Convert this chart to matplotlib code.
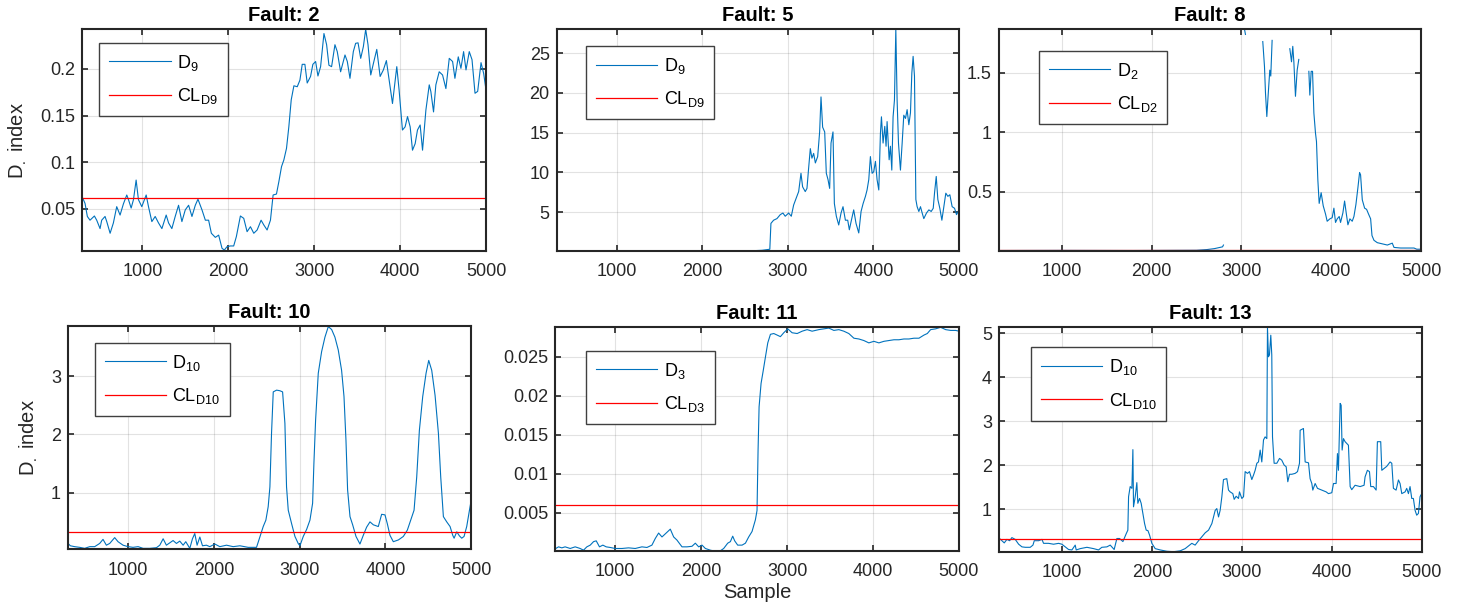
import matplotlib
matplotlib.use("Agg")
import matplotlib.pyplot as plt
from matplotlib.ticker import FormatStrFormatter
import numpy as np

plt.rcParams["font.family"] = ["Liberation Sans", "DejaVu Sans"]
plt.rcParams["mathtext.fontset"] = "custom"
plt.rcParams["mathtext.rm"] = "Liberation Sans"
plt.rcParams["mathtext.it"] = "Liberation Sans"
plt.rcParams["mathtext.bf"] = "Liberation Sans:bold"

nan = np.nan

# ---- data ----
fault2_x = [300, 331, 358, 389, 440, 467, 506, 525, 564, 584, 623, 661, 700, 739, 778, 817, 837, 868, 895, 926,
            953, 992, 1043, 1070, 1109, 1148, 1187, 1226, 1276, 1304, 1342, 1381, 1420, 1459, 1498, 1537, 1576, 1615,
            1646, 1693, 1732, 1770, 1802, 1848, 1887, 1926, 1953, 1984, 2023, 2062, 2093, 2140, 2179, 2218, 2257,
            2296, 2335, 2381, 2412, 2451, 2490, 2521, 2560, 2588, 2619, 2646, 2677, 2704, 2732, 2763, 2802, 2833,
            2860, 2891, 2918, 2957, 2984, 3016, 3043, 3074, 3113, 3144, 3171, 3202, 3241, 3268, 3307, 3358, 3385,
            3416, 3455, 3482, 3510, 3541, 3572, 3599, 3626, 3658, 3689, 3728, 3767, 3805, 3840, 3872, 3911, 3961,
            3988, 4027, 4058, 4086, 4117, 4144, 4175, 4202, 4233, 4261, 4300, 4339, 4358, 4389, 4416, 4455, 4494,
            4533, 4572, 4611, 4638, 4677, 4708, 4739, 4767, 4805, 4837, 4872, 4903, 4942, 4973, 5000]
fault2_y = [0.0625, 0.056, 0.042, 0.038, 0.0425, 0.038, 0.029, 0.038, 0.042, 0.0365, 0.024, 0.035, 0.0525, 0.0435,
            0.0555, 0.065, 0.06, 0.051, 0.06, 0.081, 0.06, 0.0525, 0.065, 0.0525, 0.0365, 0.042, 0.035, 0.029, 0.0435,
            0.035, 0.029, 0.042, 0.054, 0.0365, 0.049, 0.054, 0.042, 0.054, 0.0605, 0.049, 0.038, 0.038, 0.024,
            0.0196, 0.022, 0.0079, 0.006, 0.0096, 0.0104, 0.0104, 0.0204, 0.0425, 0.04, 0.0257, 0.031, 0.024, 0.0275,
            0.038, 0.033, 0.0275, 0.038, 0.065, 0.066, 0.0793, 0.0954, 0.1025, 0.115, 0.138, 0.167, 0.182, 0.181,
            0.188, 0.205, 0.205, 0.185, 0.192, 0.205, 0.208, 0.1925, 0.2025, 0.238, 0.226, 0.204, 0.2025, 0.226,
            0.2186, 0.197, 0.215, 0.208, 0.19, 0.2186, 0.2275, 0.228, 0.2114, 0.224, 0.2425, 0.226, 0.1936, 0.206,
            0.221, 0.192, 0.199, 0.209, 0.188, 0.163, 0.2025, 0.1775, 0.1346, 0.138, 0.149, 0.138, 0.113, 0.12,
            0.1346, 0.14, 0.113, 0.156, 0.183, 0.1757, 0.154, 0.183, 0.197, 0.1936, 0.179, 0.2114, 0.208, 0.19,
            0.213, 0.2007, 0.2186, 0.199, 0.2186, 0.21, 0.174, 0.176, 0.2068, 0.195, 0.1775]

fault5_x = [300, 800, 1500, 2200, 2600, 2700, 2790, 2803, 2834, 2873, 2912, 2943, 2970, 3010, 3041, 3068, 3099, 3127,
            3154, 3173, 3204, 3224, 3243, 3263, 3282, 3302, 3322, 3349, 3372, 3388, 3407, 3431, 3450, 3470, 3489,
            3505, 3528, 3544, 3567, 3595, 3622, 3645, 3673, 3700, 3719, 3743, 3770, 3797, 3829, 3856, 3880, 3907,
            3926, 3946, 3965, 3985, 4004, 4024, 4043, 4063, 4082, 4094, 4113, 4133, 4148, 4160, 4184, 4199, 4215,
            4230, 4246, 4262, 4277, 4293, 4316, 4336, 4355, 4375, 4394, 4414, 4433, 4449, 4464, 4480, 4496, 4511,
            4531, 4550, 4570, 4589, 4620, 4648, 4675, 4699, 4714, 4734, 4753, 4776, 4800, 4823, 4846, 4870, 4893,
            4920, 4948, 4971, 5000]
fault5_y = [0.14, 0.15, 0.14, 0.15, 0.17, 0.22, 0.35, 3.6, 4.0, 4.2, 4.7, 4.9, 4.5, 4.9, 4.5, 5.9, 6.8, 7.6, 9.9,
            8.2, 7.6, 8.0, 10.5, 13.0, 11.8, 12.4, 11.2, 12.0, 15.1, 19.5, 15.7, 15.1, 9.9, 9.1, 8.0, 13.7, 15.1, 6.1,
            4.5, 3.4, 4.9, 5.7, 4.0, 4.0, 2.8, 4.0, 5.3, 3.6, 2.4, 5.1, 6.1, 7.0, 7.8, 9.1, 12.0, 9.9, 10.1, 11.4,
            9.1, 7.8, 14.9, 17.0, 13.7, 15.8, 13.3, 16.4, 11.6, 13.3, 10.3, 17.0, 19.1, 28.0, 19.1, 13.7, 10.3, 13.7,
            17.2, 16.8, 17.9, 16.0, 17.5, 22.5, 24.6, 22.1, 6.6, 5.7, 5.1, 5.7, 4.9, 4.2, 4.9, 5.3, 5.1, 5.5, 7.4,
            9.5, 6.6, 5.5, 4.0, 5.7, 7.4, 7.0, 7.2, 5.7, 5.5, 4.7, 5.3]

# gaps (nan) where the index runs off the top of the plot
fault8_x = [300, 1000, 1800, 2500, 2617, 2700, 2790, 2800, 2900, 3026, 3045, 3100, 3238, 3257,
            3268, 3283, 3297, 3316, 3327, 3342, 3450, 3539, 3558, 3572, 3584, 3602, 3621, 3639, 3700,
            3751, 3762, 3777, 3792, 3807, 3825, 3836, 3851, 3866, 3888, 3911, 3937, 3955, 3985, 4011, 4030,
            4048, 4067, 4089, 4104, 4130, 4149, 4167, 4186, 4208, 4234, 4253, 4275, 4297, 4316, 4327, 4346, 4372,
            4394, 4416, 4439, 4454, 4476, 4513, 4569, 4625, 4680, 4699, 4773, 4922, 4952, 5000]
fault8_y = [0.004, 0.005, 0.004, 0.006, 0.012, 0.02, 0.035, 0.05, nan, 1.9, 1.82, nan, 1.76,
            1.55, 1.33, 1.13, 1.30, 1.52, 1.47, 1.77, nan, 1.70, 1.59, 1.72, 1.59, 1.30, 1.52, 1.61, nan,
            1.51, 1.31, 1.51, 1.51, 1.16, 0.99, 0.92, 0.60, 0.40, 0.49, 0.38, 0.31, 0.25, 0.27, 0.28, 0.36,
            0.24, 0.27, 0.29, 0.24, 0.32, 0.42, 0.32, 0.22, 0.27, 0.25, 0.29, 0.39, 0.53, 0.66, 0.64, 0.43, 0.36,
            0.35, 0.31, 0.27, 0.13, 0.09, 0.07, 0.06, 0.05, 0.066, 0.03, 0.025, 0.025, 0.015, 0.015]

fault10_x = [300, 327, 377, 436, 494, 553, 611, 669, 708, 747, 786, 844, 883, 942, 1000, 1058, 1117, 1175, 1253, 1331,
             1370, 1409, 1447, 1486, 1525, 1564, 1603, 1642, 1673, 1720, 1751, 1778, 1805, 1837, 1868, 1914, 1953,
             2012, 2070, 2148, 2226, 2304, 2401, 2498, 2537, 2576, 2607, 2634, 2654, 2673, 2693, 2732, 2770, 2802,
             2829, 2848, 2868, 2907, 2946, 2984, 3004, 3043, 3082, 3121, 3152, 3167, 3187, 3218, 3257, 3296, 3335,
             3374, 3412, 3451, 3490, 3518, 3541, 3560, 3588, 3619, 3658, 3704, 3743, 3782, 3821, 3860, 3918, 3957,
             3996, 4023, 4054, 4093, 4152, 4210, 4257, 4296, 4335, 4366, 4397, 4436, 4475, 4506, 4541, 4580, 4619,
             4646, 4677, 4716, 4755, 4786, 4802, 4833, 4864, 4891, 4918, 4949, 4981, 5000]
fault10_y = [0.13, 0.09, 0.075, 0.063, 0.046, 0.075, 0.075, 0.13, 0.2, 0.1, 0.13, 0.23, 0.16, 0.1, 0.075, 0.063,
             0.075, 0.046, 0.046, 0.057, 0.1, 0.21, 0.1, 0.14, 0.18, 0.13, 0.17, 0.1, 0.16, 0.046, 0.21, 0.3, 0.1,
             0.24, 0.09, 0.1, 0.075, 0.12, 0.075, 0.1, 0.075, 0.09, 0.063, 0.063, 0.24, 0.42, 0.53, 0.76, 1.1, 2.02,
             2.73, 2.76, 2.75, 2.73, 2.19, 1.1, 0.7, 0.47, 0.25, 0.13, 0.09, 0.25, 0.37, 0.53, 0.82, 1.5, 2.25, 3.05,
             3.42, 3.67, 3.85, 3.8, 3.67, 3.45, 3.1, 2.65, 1.9, 1.05, 0.59, 0.45, 0.25, 0.12, 0.27, 0.41, 0.5, 0.45,
             0.42, 0.63, 0.62, 0.47, 0.27, 0.16, 0.19, 0.25, 0.36, 0.53, 0.7, 1.27, 2.07, 2.65, 3.05, 3.27, 3.1,
             2.67, 2.02, 1.27, 0.59, 0.5, 0.42, 0.27, 0.22, 0.33, 0.26, 0.22, 0.25, 0.42, 0.7, 0.86]

fault11_x = [309, 340, 379, 417, 476, 534, 592, 631, 670, 709, 748, 779, 817, 856, 895, 942, 1000, 1078, 1155, 1233,
             1311, 1369, 1427, 1466, 1505, 1544, 1583, 1641, 1680, 1718, 1777, 1835, 1893, 1932, 1971, 2010, 2049,
             2107, 2165, 2223, 2262, 2309, 2340, 2367, 2390, 2425, 2476, 2515, 2553, 2592, 2631, 2650, 2662, 2674,
             2697, 2720, 2748, 2775, 2806, 2845, 2884, 2922, 2961, 3008, 3058, 3117, 3175, 3233, 3291, 3369, 3427,
             3485, 3544, 3602, 3660, 3718, 3777, 3835, 3893, 3951, 4010, 4068, 4126, 4184, 4243, 4301, 4359, 4417,
             4476, 4534, 4592, 4631, 4670, 4728, 4786, 4845, 4903, 4961, 5000]
fault11_y = [0.00042, 0.00063, 0.0005, 0.00063, 0.00042, 0.00063, 0.00042, 0.0002, 0.00063, 0.00085, 0.0013, 0.0014,
             0.00063, 0.00085, 0.00063, 0.00055, 0.00042, 0.00042, 0.0005, 0.00042, 0.00063, 0.00055, 0.00085,
             0.0017, 0.0024, 0.0019, 0.0023, 0.0029, 0.0019, 0.0015, 0.00063, 0.00063, 0.0007, 0.0011, 0.00063,
             0.00085, 0.00042, 0.0002, 0.00007, 0.00012, 0.00042, 0.0011, 0.0013, 0.002, 0.0014, 0.00085, 0.00085,
             0.0011, 0.0019, 0.0026, 0.0041, 0.0053, 0.013, 0.0186, 0.0216, 0.0231, 0.025, 0.0268, 0.0279, 0.028,
             0.0278, 0.0276, 0.0281, 0.0286, 0.0281, 0.028, 0.0283, 0.0285, 0.0283, 0.0285, 0.0286, 0.0287, 0.0284,
             0.0285, 0.0283, 0.028, 0.0274, 0.0273, 0.0271, 0.0268, 0.027, 0.0268, 0.027, 0.0271, 0.0272, 0.0272,
             0.0273, 0.0273, 0.0274, 0.0274, 0.0278, 0.028, 0.0285, 0.0286, 0.0288, 0.0285, 0.0284, 0.0284, 0.0283]

fault13_x = [307, 333, 359, 389, 419, 444, 481, 519, 556, 593, 648, 678, 693, 741, 778, 796, 852, 907, 963, 1000, 1037,
             1074, 1111, 1148, 1159, 1204, 1278, 1352, 1407, 1444, 1500, 1537, 1581, 1611, 1641, 1678, 1715, 1733,
             1741, 1759, 1778, 1789, 1796, 1815, 1833, 1844, 1863, 1881, 1900, 1919, 1937, 1956, 1974, 2000, 2037,
             2093, 2167, 2241, 2315, 2370, 2407, 2444, 2481, 2519, 2556, 2593, 2630, 2667, 2704, 2722, 2741, 2759,
             2778, 2796, 2833, 2852, 2870, 2900, 2915, 2937, 2963, 2974, 3000, 3019, 3037, 3063, 3085, 3111, 3130,
             3148, 3167, 3185, 3204, 3222, 3241, 3259, 3278, 3285, 3296, 3307, 3322, 3333, 3341, 3359, 3389, 3419,
             3444, 3470, 3493, 3511, 3530, 3556, 3593, 3619, 3641, 3648, 3685, 3704, 3741, 3759, 3778, 3789, 3815,
             3841, 3889, 3937, 3963, 4000, 4019, 4048, 4063, 4074, 4093, 4104, 4115, 4130, 4148, 4167, 4185, 4204,
             4222, 4259, 4315, 4359, 4370, 4396, 4419, 4433, 4463, 4493, 4507, 4544, 4556, 4581, 4611, 4648, 4667,
             4685, 4715, 4741, 4759, 4778, 4815, 4833, 4852, 4870, 4889, 4907, 4926, 4944, 4963, 4981, 5000]
fault13_y = [0.34, 0.29, 0.24, 0.32, 0.29, 0.36, 0.32, 0.21, 0.15, 0.14, 0.14, 0.19, 0.29, 0.29, 0.32, 0.23, 0.23,
             0.21, 0.23, 0.21, 0.15, 0.09, 0.08, 0.19, 0.08, 0.11, 0.14, 0.11, 0.08, 0.14, 0.15, 0.19, 0.09, 0.34,
             0.34, 0.27, 0.45, 0.53, 1.29, 1.52, 1.48, 2.36, 1.06, 1.29, 1.61, 1.14, 1.25, 1.14, 0.91, 0.68, 0.53,
             0.52, 0.42, 0.23, 0.11, 0.08, 0.05, 0.04, 0.06, 0.11, 0.17, 0.23, 0.19, 0.29, 0.38, 0.47, 0.53, 0.68,
             0.98, 1.02, 0.83, 0.98, 1.29, 1.68, 1.7, 1.44, 1.4, 1.36, 1.23, 1.3, 1.25, 1.4, 1.25, 1.29, 1.86, 1.82,
             1.86, 1.68, 1.78, 1.89, 2.05, 2.08, 2.35, 2.08, 2.58, 2.65, 2.61, 5.14, 4.47, 4.51, 4.96, 4.51, 2.65,
             2.05, 2.05, 2.16, 2.12, 2.01, 1.97, 1.63, 1.8, 1.8, 1.82, 1.86, 2.05, 2.8, 2.84, 2.08, 2.06, 1.7, 1.59,
             1.44, 1.59, 1.48, 1.44, 1.4, 1.36, 1.38, 1.59, 1.59, 2.27, 1.89, 3.41, 3.37, 2.35, 2.61, 2.54, 2.5,
             2.46, 1.52, 1.45, 1.55, 1.52, 1.55, 1.74, 1.89, 1.86, 1.52, 1.52, 1.44, 2.54, 2.54, 1.89, 1.93, 1.98,
             2.08, 2.05, 1.48, 1.44, 1.67, 1.59, 1.36, 1.4, 1.48, 1.36, 1.52, 1.25, 1.25, 0.98, 0.87, 0.91, 1.29,
             1.36]

faults = ["2", "5", "8", "10", "11", "13"]
index_names = ["9", "9", "2", "10", "3", "10"]
control_limits = [0.062, 0.15, 0.008, 0.32, 0.006, 0.34]
y_limits = [(0.005, 0.2425), (0.13, 28.0), (0.0, 1.863), (0.03, 3.86), (0.0001, 0.0288), (0.04, 5.14)]
y_ticks = [[0.05, 0.1, 0.15, 0.2], [5, 10, 15, 20, 25], [0.5, 1, 1.5], [1, 2, 3],
           [0.005, 0.01, 0.015, 0.02, 0.025], [1, 2, 3, 4, 5]]
series_x = [fault2_x, fault5_x, fault8_x, fault10_x, fault11_x, fault13_x]
series_y = [fault2_y, fault5_y, fault8_y, fault10_y, fault11_y, fault13_y]
x_ticks = [1000, 2000, 3000, 4000, 5000]

# axes boxes (fig fractions) and legend anchors (axes fractions)
boxes = [(0.0563, 0.5865, 0.2759, 0.3652), (0.3805, 0.5865, 0.2750, 0.3652), (0.6828, 0.5865, 0.2885, 0.3652),
         (0.0465, 0.0951, 0.2755, 0.3678), (0.3794, 0.0923, 0.2761, 0.3685), (0.6828, 0.0911, 0.2890, 0.3697)]
legend_anchor = [(0.042, 0.940), (0.073, 0.925), (0.095, 0.904), (0.066, 0.925), (0.077, 0.895), (0.076, 0.911)]

fig = plt.figure(figsize=(14.63, 6.07), dpi=100)
dark = "#262626"

for i in range(6):
    ax = fig.add_axes(boxes[i])
    ax.plot(series_x[i], series_y[i], color="#0072BD", lw=0.8, label="D$_{%s}$" % index_names[i])
    ax.axhline(control_limits[i], color="#FF0000", lw=0.9, label="CL$_{D%s}$" % index_names[i])
    ax.set_xlim(300, 5000)
    ax.set_ylim(*y_limits[i])
    ax.set_xticks(x_ticks)
    ax.set_yticks(y_ticks[i])
    ax.yaxis.set_major_formatter(FormatStrFormatter("%g"))
    ax.grid(True, color=dark, alpha=0.13, lw=0.8)
    ax.tick_params(direction="in", top=True, right=True, length=4, width=1.2, colors=dark,
                   labelsize=13)
    ax.tick_params(axis="x", pad=9)
    ax.tick_params(axis="y", pad=5)
    for s in ax.spines.values():
        s.set_linewidth(1.5)
        s.set_color(dark)
    ax.set_title("Fault: " + faults[i], fontsize=14.5, fontweight="bold", pad=6)
    if i in (0, 3):
        ax.set_ylabel("D$_{.}$ index", fontsize=14.5, color=dark, labelpad=8)
    if i == 4:
        ax.set_xlabel("Sample", fontsize=14.5, color=dark, labelpad=2)
    leg = ax.legend(loc="upper left", bbox_to_anchor=legend_anchor[i], borderaxespad=0,
                    fontsize=13, fancybox=False, framealpha=1, edgecolor="#404040",
                    handlelength=3.4, handletextpad=0.35, labelspacing=0.75, borderpad=0.55)
    leg.get_frame().set_linewidth(1.0)

fig.savefig("out.png", dpi=100)
